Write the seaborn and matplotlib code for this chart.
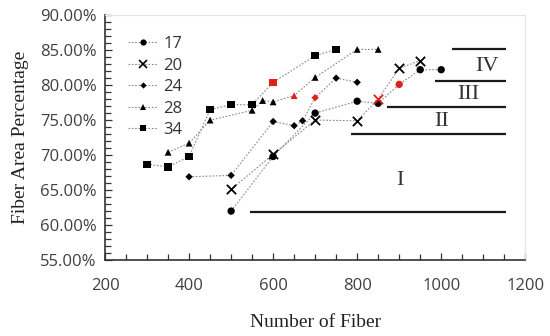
import numpy as np
import pandas as pd
import matplotlib
matplotlib.use('Agg')
import matplotlib.pyplot as plt
from matplotlib.lines import Line2D
from matplotlib.ticker import MultipleLocator, PercentFormatter
import seaborn as sns

# ── Data
x17 = [500, 600, 700, 800, 850, 900, 950, 1000]
y17 = [62.0, 69.8, 76.0, 77.7, 77.4, 80.1, 82.2, 82.2]

x20 = [500, 600, 700, 800, 850, 900, 950]
y20 = [65.1, 70.1, 75.0, 74.9, 78.0, 82.4, 83.5]

x24 = [400, 500, 600, 650, 670, 700, 750, 800]
y24 = [66.9, 67.1, 74.8, 74.2, 74.9, 78.2, 81.0, 80.4]

x28 = [350, 400, 450, 550, 575, 600, 650, 700, 800, 850]
y28 = [70.4, 71.7, 75.0, 76.4, 77.8, 77.6, 78.5, 81.1, 85.1, 85.1]

x34 = [300, 350, 400, 450, 500, 550, 600, 700, 750]
y34 = [68.7, 68.3, 69.8, 76.5, 77.2, 77.2, 80.4, 84.2, 85.1]

series_names = ["17", "20", "24", "28", "34"]
series_x = [x17, x20, x24, x28, x34]
series_y = [y17, y20, y24, y28, y34]
# the highlighted (red) sample of each series
red_x = [900, 850, 700, 650, 600]

# region boundary lines (start, end, level) and their labels
bound_start = [545, 785, 870, 985, 1025]
bound_end = [1155, 1155, 1155, 1155, 1155]
bound_level = [61.8, 73.0, 76.9, 80.6, 85.1]
region_labels = ["I", "II", "III", "IV"]
region_x = [902, 1002, 1065, 1110]
region_y = [66.4, 74.8, 78.6, 82.6]

markers = {"17": "o", "20": "x", "24": "D", "28": "^", "34": "s"}
msizes = {"17": 28, "20": 45, "24": 14, "28": 24, "34": 28}

rows = []
for name, xs, ys, rx in zip(series_names, series_x, series_y, red_x):
    for xv, yv in zip(xs, ys):
        rows.append({"series": name, "fibers": xv, "area": yv, "red": xv == rx})
df = pd.DataFrame(rows)

sns.set_theme(style="white")
plt.rcParams['font.family'] = ['Open Sans', 'DejaVu Sans']

fig, ax = plt.subplots(figsize=(5.5, 3.36), dpi=100)
fig.subplots_adjust(left=0.191, right=0.955, top=0.955, bottom=0.226)

for name in series_names:
    sub = df[df["series"] == name]
    sns.lineplot(data=sub, x="fibers", y="area", ax=ax, color="#8a8a8a",
                 linestyle=(0, (1.5, 1.5)), linewidth=0.8, sort=True,
                 estimator=None, legend=False)
    for is_red, col in [(False, "black"), (True, "#e0201b")]:
        part = sub[sub["red"] == is_red]
        kw = dict(linewidth=1.3) if markers[name] == "x" else dict(edgecolor="none")
        sns.scatterplot(data=part, x="fibers", y="area", ax=ax, color=col,
                        marker=markers[name], s=msizes[name], zorder=3,
                        legend=False, **kw)

for x0, x1, lv in zip(bound_start, bound_end, bound_level):
    ax.plot([x0, x1], [lv, lv], color="#1a1a1a", linewidth=1.6, solid_capstyle="butt")
for lab, rx, ry in zip(region_labels, region_x, region_y):
    ax.text(rx, ry, lab, ha="center", va="center", fontsize=16,
            family="Liberation Serif", color="#333333")

ax.set_xlim(200, 1200)
ax.set_ylim(55, 90)
ax.xaxis.set_major_locator(MultipleLocator(200))
ax.xaxis.set_minor_locator(MultipleLocator(50))
ax.yaxis.set_major_locator(MultipleLocator(5))
ax.yaxis.set_minor_locator(MultipleLocator(1))
ax.yaxis.set_major_formatter(PercentFormatter(decimals=2))
ax.tick_params(which="both", direction="in", color="#333333", width=0.9,
               left=True, bottom=True, labelsize=12, labelcolor="#404040")
ax.tick_params(which="major", length=5)
ax.tick_params(axis="y", which="major", pad=6)
ax.tick_params(axis="x", which="major", pad=13)
ax.tick_params(which="minor", length=4)

for side in ["left", "bottom"]:
    ax.spines[side].set_color("#333333")
    ax.spines[side].set_linewidth(1.2)
for side in ["top", "right"]:
    ax.spines[side].set_color("#e4e4e4")
    ax.spines[side].set_linewidth(0.8)

ax.set_xlabel("Number of Fiber", family="Liberation Serif", fontsize=14,
              color="#222222", labelpad=14)
ax.set_ylabel("Fiber Area Percentage", family="Liberation Serif", fontsize=14,
              color="#222222", labelpad=8)

handles = [Line2D([], [], color="#8a8a8a", linestyle=(0, (1.5, 1.5)), linewidth=0.8,
                  marker=markers[n], markersize=np.sqrt(msizes[n]) * 0.85,
                  markerfacecolor="black", markeredgecolor="black",
                  markeredgewidth=1.2 if markers[n] == "x" else 0)
           for n in series_names]
ax.legend(handles, series_names, loc="upper left", bbox_to_anchor=(0.02, 0.975),
          frameon=False, fontsize=12, handlelength=1.8, handletextpad=0.3,
          labelspacing=0.33, labelcolor="#333333")

fig.savefig("out.png", dpi=100)
